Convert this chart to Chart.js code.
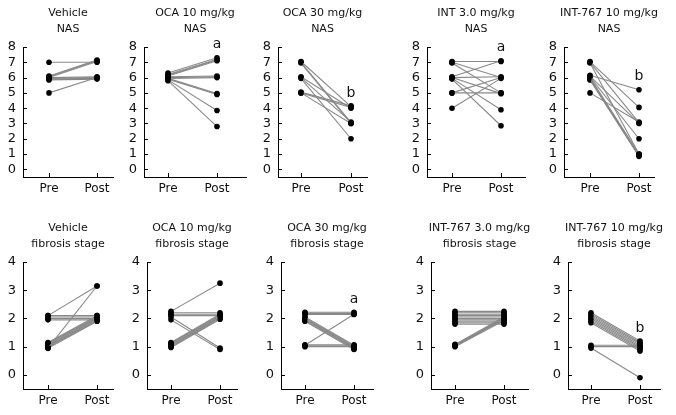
<!DOCTYPE html>
<html>
<head>
<meta charset="utf-8">
<script src="https://cdn.jsdelivr.net/npm/chart.js@4.4.0/dist/chart.umd.min.js"></script>
<style>
  html, body { margin: 0; padding: 0; background: #fff; }
  #wrap { position: relative; width: 676px; height: 415px; overflow: hidden; }
  .cell { position: absolute; }
</style>
</head>
<body>
<div id="wrap"></div>
<script>
// ---- data ----
const xLabels = ['Pre', 'Post'];
const nasTicks = [0, 1, 2, 3, 4, 5, 6, 7, 8];
const fibTicks = [0, 1, 2, 3, 4];

const titles = [
  ['Vehicle', 'NAS'], ['OCA 10 mg/kg', 'NAS'], ['OCA 30 mg/kg', 'NAS'],
  ['INT 3.0 mg/kg', 'NAS'], ['INT-767 10 mg/kg', 'NAS'],
  ['Vehicle', 'fibrosis stage'], ['OCA 10 mg/kg', 'fibrosis stage'], ['OCA 30 mg/kg', 'fibrosis stage'],
  ['INT-767 3.0 mg/kg', 'fibrosis stage'], ['INT-767 10 mg/kg', 'fibrosis stage']
];
const letters = ['', 'a', 'b', 'a', 'b', '', '', 'a', '', 'b'];

// NAS, one entry per animal (pre -> post)
const vehNasPre  = [7, 6.1, 6.05, 6.0, 6.0, 5.95, 5.9, 5.85, 5];
const vehNasPost = [7, 7.15, 7.1, 7.05, 6.05, 6.0, 5.95, 5.9, 6];
const oca10NasPre  = [6.3, 6.2, 6.15, 6.1, 6.05, 6.0, 5.95, 5.95, 5.9, 5.85, 5.8];
const oca10NasPost = [7.3, 7.2, 7.15, 7.1, 6.1, 6.05, 6.0, 4.95, 4.9, 3.85, 2.8];
const oca30NasPre  = [7.05, 7.0, 6.95, 6.05, 6.0, 5.95, 5.05, 5.0, 5.0];
const oca30NasPost = [4.1, 3.05, 3.0, 4.0, 3.1, 2.0, 4.15, 3.0, 4.05];
const int3NasPre  = [7.05, 7.0, 6.95, 6.05, 6.0, 6.0, 5.95, 5.9, 5.0, 5.0, 4.0];
const int3NasPost = [7.05, 6.0, 5.0, 7.1, 6.05, 4.95, 3.9, 2.85, 5.0, 6.0, 5.95];
const int10NasPre  = [7.05, 7.0, 6.95, 6.15, 6.1, 6.05, 6.0, 5.95, 5.9, 5.85, 5.0];
const int10NasPost = [4.05, 3.05, 1.0, 5.2, 3.0, 2.0, 1.0, 0.95, 0.9, 0.85, 3.1];

// fibrosis stage
const vehFibPre  = [2.1, 0.95, 2.1, 2.05, 2.0, 1.95, 1.15, 1.12, 1.09, 1.06, 1.03, 1.0, 0.97, 0.94];
const vehFibPost = [3.15, 3.15, 2.1, 2.05, 2.0, 1.95, 2.1, 2.07, 2.04, 2.01, 1.98, 1.95, 1.92, 1.9];
const oca10FibPre  = [2.25, 2.2, 2.15, 2.1, 2.05, 1.95, 1.15, 1.12, 1.09, 1.06, 1.03, 1.0, 0.97];
const oca10FibPost = [3.25, 2.2, 2.15, 2.1, 0.95, 0.9, 2.15, 2.12, 2.09, 2.06, 2.03, 2.0, 1.97];
const oca30FibPre  = [2.22, 2.18, 2.14, 2.05, 2.02, 1.99, 1.96, 1.93, 1.9, 1.05, 1.07, 1.03, 1.0];
const oca30FibPost = [2.22, 2.18, 2.14, 1.05, 1.02, 0.99, 0.96, 0.93, 0.9, 2.15, 1.07, 1.03, 1.0];
const int3FibPre  = [2.25, 2.2, 2.15, 2.1, 2.05, 2.0, 1.95, 1.9, 1.85, 1.8, 1.08, 1.06, 1.04, 1.02, 1.0];
const int3FibPost = [2.25, 2.2, 2.15, 2.1, 2.05, 2.0, 1.95, 1.9, 1.85, 1.8, 2.05, 2.02, 1.99, 1.96, 1.93];
const int10FibPre  = [2.2, 2.15, 2.1, 2.05, 2.0, 1.95, 1.9, 1.85, 1.05, 1.0, 0.95];
const int10FibPost = [1.2, 1.15, 1.1, 1.05, 1.0, 0.95, 0.9, 0.85, 1.05, 1.0, -0.1];

const preSets  = [vehNasPre, oca10NasPre, oca30NasPre, int3NasPre, int10NasPre,
                  vehFibPre, oca10FibPre, oca30FibPre, int3FibPre, int10FibPre];
const postSets = [vehNasPost, oca10NasPost, oca30NasPost, int3NasPost, int10NasPost,
                  vehFibPost, oca10FibPost, oca30FibPost, int3FibPost, int10FibPost];

// ---- layout (pixels): axis left, Pre, Post, axis right ----
const geom = [
  [23, 49, 97, 113], [144, 168, 217, 246], [278, 301, 351, 367], [427, 452, 501, 525], [564, 590, 639, 654],
  [23, 48, 97, 113], [147, 171, 220, 237], [281, 305, 354, 373], [431, 455, 504, 528], [568, 591, 640, 660]
];
const rowTop = [47, 262];
const rowBottom = [177, 389];
const Y_W = 30, X_H = 26, PAD_TOP = 45, SIDE = 30;
const FONT = 'DejaVu Sans';

const panelDecor = {
  id: 'panelDecor',
  afterDraw(chart, args, opts) {
    const { ctx, chartArea: a, scales } = chart;
    ctx.save();
    // inward tick marks
    ctx.strokeStyle = '#000';
    ctx.lineWidth = 1;
    ctx.beginPath();
    opts.yTicks.forEach(v => {
      const y = Math.round(scales.y.getPixelForValue(v)) + 0.5;
      ctx.moveTo(a.left, y); ctx.lineTo(a.left + 4, y);
    });
    [0, 1].forEach(v => {
      const x = Math.round(scales.x.getPixelForValue(v)) + 0.5;
      ctx.moveTo(x, a.bottom); ctx.lineTo(x, a.bottom - 4);
    });
    ctx.stroke();
    // title
    const cx = (a.left + a.right) / 2;
    ctx.fillStyle = '#111';
    ctx.font = '11px "' + FONT + '"';
    ctx.textAlign = 'center';
    ctx.textBaseline = 'middle';
    ctx.fillText(opts.title[0], cx, a.top - 34);
    ctx.fillText(opts.title[1], cx, a.top - 18);
    // significance letter
    if (opts.letter) {
      const top = Math.max(...opts.post);
      ctx.font = '14px "' + FONT + '"';
      ctx.fillText(opts.letter, scales.x.getPixelForValue(1), scales.y.getPixelForValue(top) - 13);
    }
    ctx.restore();
  }
};

const wrap = document.getElementById('wrap');

preSets.forEach((pre, i) => {
  const post = postSets[i];
  const row = i < 5 ? 0 : 1;
  const [ax, px0, px1, ae] = geom[i];
  const unit = px1 - px0;
  const yTicks = row === 0 ? nasTicks : fibTicks;

  const div = document.createElement('div');
  div.className = 'cell';
  const w = (ae - ax) + Y_W + 2 * SIDE;
  const h = PAD_TOP + (rowBottom[row] - rowTop[row]) + X_H;
  div.style.left = (ax - Y_W - SIDE) + 'px';
  div.style.top = (rowTop[row] - PAD_TOP) + 'px';
  div.style.width = w + 'px';
  div.style.height = h + 'px';
  const canvas = document.createElement('canvas');
  canvas.width = w; canvas.height = h;
  div.appendChild(canvas);
  wrap.appendChild(div);

  const datasets = pre.map((p, k) => ({
    data: [{ x: 0, y: p }, { x: 1, y: post[k] }],
    borderColor: '#888',
    borderWidth: 1.1,
    pointRadius: 2.8,
    pointBackgroundColor: '#000',
    pointBorderWidth: 0
  }));

  new Chart(canvas.getContext('2d'), {
    type: 'line',
    data: { datasets },
    options: {
      responsive: false,
      animation: false,
      layout: { padding: { top: PAD_TOP, right: SIDE, left: SIDE, bottom: 0 } },
      plugins: {
        legend: { display: false },
        tooltip: { enabled: false },
        panelDecor: { yTicks, title: titles[i], letter: letters[i], post }
      },
      scales: {
        x: {
          type: 'linear',
          min: -(px0 - ax) / unit,
          max: (ae - px0) / unit,
          afterBuildTicks: s => { s.ticks = [{ value: 0 }, { value: 1 }]; },
          afterFit: s => { s.height = X_H; },
          ticks: { callback: v => xLabels[v], color: '#111', font: { family: FONT, size: 12 }, padding: 5, maxRotation: 0, autoSkip: false },
          grid: { drawOnChartArea: false, drawTicks: false },
          border: { color: '#000', width: 1 }
        },
        y: {
          min: -0.5,
          max: yTicks[yTicks.length - 1],
          afterBuildTicks: s => { s.ticks = yTicks.map(v => ({ value: v })); },
          afterFit: s => { s.width = Y_W; },
          ticks: { color: '#111', font: { family: FONT, size: 13 }, padding: 7, autoSkip: false },
          grid: { drawOnChartArea: false, drawTicks: false },
          border: { color: '#000', width: 1 }
        }
      }
    },
    plugins: [panelDecor]
  });
});
</script>
</body>
</html>
